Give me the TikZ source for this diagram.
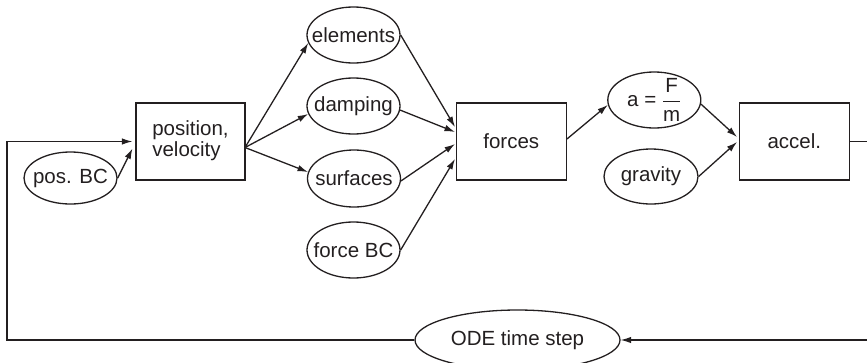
\documentclass[tikz,border=0pt]{standalone}
\usepackage{amsmath}
\usepackage{fontspec}
\setmainfont{Liberation Sans}
\usetikzlibrary{shapes.geometric,arrows.meta}
\definecolor{ink}{HTML}{231F20}
\newcommand{\zw}[1]{\makebox[0pt][c]{#1}}
\tikzset{
  every node/.style={font=\fontsize{20.5}{24}\selectfont, text=ink},
  box/.style={draw=ink, line width=1.3pt, rectangle, inner sep=0pt, minimum width=109pt, minimum height=77pt},
  oval/.style={draw=ink, line width=1.3pt, ellipse, inner sep=0pt, minimum width=93pt, minimum height=56pt},
  conn/.style={draw=ink, line width=1.3pt},
  arr/.style={conn, -{Latex[length=10.5pt,width=6.5pt]}}
}
\begin{document}
\begin{tikzpicture}[x=1pt,y=-1pt]
\clip (0,0) rectangle (867,362);
\useasboundingbox (0,0) rectangle (867,362);
% boxes
\node[box] (pv) at (190.5,141.5) {\begin{tabular}{@{}l@{}}position,\\[-3pt]velocity\end{tabular}};
\node[box, minimum width=110pt] (forces) at (511.3,141.5) {forces};
\node[box, minimum width=110pt] (accel) at (794.3,141.5) {accel.};
% ellipses
\node[oval, minimum height=52pt] (posbc) at (70.5,178) {\zw{pos. BC}};
\node[oval] (elements) at (353.5,35) {\zw{elements}};
\node[oval] (damping) at (353.5,106) {\zw{damping}};
\node[oval, minimum height=57pt] (surfaces) at (354,178.5) {\zw{surfaces}};
\node[oval] (forcebc) at (353.5,250) {\zw{force BC}};
\node[oval, inner ysep=-8pt] (afm) at (654.3,100) {\zw{a = $\dfrac{\text{F}}{\text{m}}$}};
\node[oval, minimum width=94pt, minimum height=55pt] (gravity) at (651,176.5) {\zw{gravity}};
\node[oval, minimum width=205pt, minimum height=60pt] (ode) at (517.5,340) {\zw{ODE time step}};
% helper coordinates for the loop
\coordinate (r1) at (872,141.5);
\coordinate (r2) at (872,340);
\coordinate (l1) at (7,340);
\coordinate (l2) at (7,141.5);
% connectors
\draw[arr] (posbc.east) -- ([shift={(-58,7)}]pv.center);
\draw[arr] ([shift={(54.5,6)}]pv.center) -- (elements.190);
\draw[arr] ([shift={(54.5,6)}]pv.center) -- (damping.190);
\draw[arr] ([shift={(54.5,6)}]pv.center) -- (surfaces.172);
\draw[arr] (elements.east) -- ([shift={(-56.3,-14.5)}]forces.center);
\draw[arr] (damping.-5) -- ([shift={(-56.3,-9.5)}]forces.center);
\draw[arr] (surfaces.-3) -- ([shift={(-56.3,2.5)}]forces.center);
\draw[arr] (forcebc.east) -- ([shift={(-56.3,17.5)}]forces.center);
\draw[arr] ([shift={(0,-2.5)}]forces.east) -- (afm.186);
\draw[arr] (afm.-5) -- ([shift={(-57.3,-4.5)}]accel.center);
\draw[arr] (gravity.east) -- ([shift={(-57.3,0.5)}]accel.center);
\draw[arr] (accel.east) -- (r1) -- (r2) -- (ode.east);
\draw[arr] (ode.west) -- (l1) -- (l2) -- ([xshift=-3pt]pv.west);
\end{tikzpicture}
\end{document}
